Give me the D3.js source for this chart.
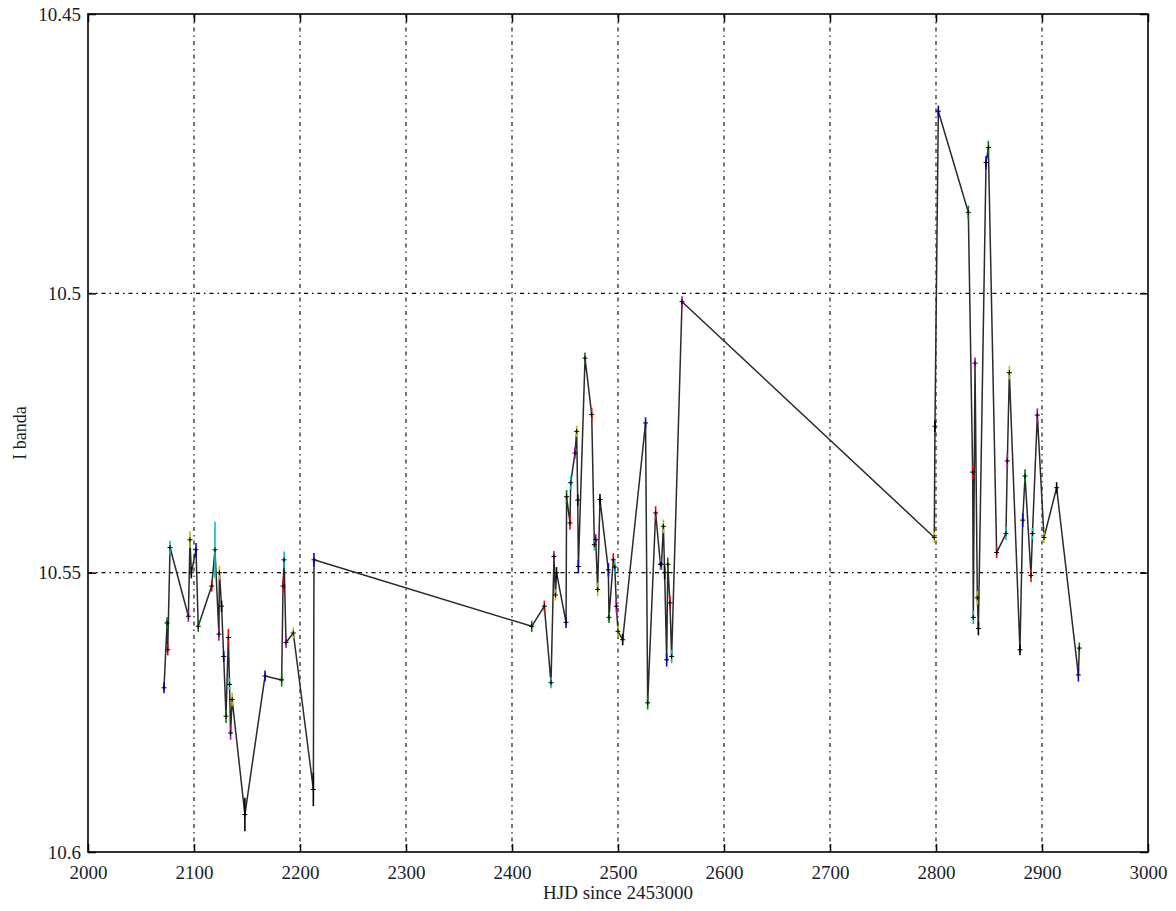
<!DOCTYPE html>
<html>
<head>
<meta charset="utf-8">
<script src="https://cdn.jsdelivr.net/npm/d3@7"></script>
<style>
    body { margin: 0; background: #fff; }
    text { font-family: "Liberation Serif", "DejaVu Serif", serif; fill: #1c1c28; }
</style>
</head>
<body>
<svg id="svg-lc"></svg>
<script>
// light curve, I band
let hjd = [
    2071.7, 2074.6, 2075.2, 2077.4, 2094.7, 2096.2, 2097.5, 2101.9, 2104.0, 2116.7,
    2119.8, 2123.5, 2124.0, 2126.0, 2128.0, 2130.2, 2132.4, 2133.5, 2134.5, 2136.0,
    2148.0, 2167.0, 2182.7, 2184.0, 2185.0, 2186.8, 2193.7, 2212.6, 2213.2,
    2418.6, 2430.5, 2436.8, 2439.6, 2441.0, 2442.0, 2451.0, 2451.5, 2454.7, 2455.4,
    2459.4, 2461.0, 2462.0, 2462.6, 2468.9, 2475.2, 2477.7, 2479.0, 2480.8, 2483.0,
    2490.9, 2491.5, 2495.6, 2497.0, 2498.5, 2500.0, 2504.4, 2526.0, 2528.0, 2535.5,
    2540.0, 2541.0, 2542.8, 2544.0, 2545.9, 2547.0, 2549.0, 2550.6, 2560.4,
    2798.4, 2799.0, 2802.2, 2830.5, 2834.6, 2835.2, 2836.8, 2839.0, 2840.0, 2847.2,
    2849.4, 2857.2, 2866.0, 2867.3, 2869.2, 2879.2, 2881.8, 2884.0, 2889.6, 2891.0,
    2895.6, 2901.9, 2913.8, 2934.3, 2935.2
];
let mag = [
    10.5706, 10.5590, 10.5638, 10.5455, 10.5578, 10.5441, 10.5500, 10.5459, 10.5596, 10.5524,
    10.5459, 10.5610, 10.5500, 10.5560, 10.5650, 10.5757, 10.5616, 10.5700, 10.5787, 10.5727,
    10.5933, 10.5685, 10.5692, 10.5524, 10.5477, 10.5625, 10.5608, 10.5888, 10.5477,
    10.5596, 10.5560, 10.5697, 10.5471, 10.5540, 10.5500, 10.5589, 10.5364, 10.5411, 10.5339,
    10.5286, 10.5247, 10.5370, 10.5489, 10.5116, 10.5217, 10.5450, 10.5441, 10.5530, 10.5369,
    10.5495, 10.5580, 10.5477, 10.5490, 10.5560, 10.5605, 10.5620, 10.5232, 10.5733, 10.5393,
    10.5485, 10.5485, 10.5417, 10.5500, 10.5656, 10.5485, 10.5554, 10.5650, 10.5015,
    10.5437, 10.5238, 10.4674, 10.4855, 10.5320, 10.5580, 10.5125, 10.5545, 10.5600, 10.4766,
    10.4739, 10.5464, 10.5430, 10.5300, 10.5142, 10.5638, 10.5406, 10.5327, 10.5505, 10.5430,
    10.5218, 10.5437, 10.5348, 10.5683, 10.5635
];
let err = [
    0.0010, 0.0010, 0.0010, 0.0012, 0.0010, 0.0015, 0.0010, 0.0012, 0.0010, 0.0010,
    0.0050, 0.0012, 0.0012, 0.0010, 0.0010, 0.0012, 0.0015, 0.0010, 0.0012, 0.0012,
    0.0030, 0.0010, 0.0012, 0.0012, 0.0015, 0.0010, 0.0010, 0.0030, 0.0012,
    0.0010, 0.0010, 0.0010, 0.0010, 0.0010, 0.0010, 0.0010, 0.0012, 0.0012, 0.0012,
    0.0010, 0.0010, 0.0010, 0.0012, 0.0010, 0.0012, 0.0010, 0.0010, 0.0012, 0.0010,
    0.0012, 0.0010, 0.0012, 0.0010, 0.0012, 0.0010, 0.0010, 0.0010, 0.0012, 0.0012,
    0.0010, 0.0010, 0.0012, 0.0012, 0.0012, 0.0012, 0.0012, 0.0012, 0.0010,
    0.0010, 0.0010, 0.0010, 0.0012, 0.0012, 0.0012, 0.0010, 0.0012, 0.0012, 0.0012,
    0.0012, 0.0010, 0.0012, 0.0012, 0.0012, 0.0010, 0.0012, 0.0012, 0.0012, 0.0010,
    0.0012, 0.0010, 0.0010, 0.0012, 0.0010
];
let xTicks = [2000, 2100, 2200, 2300, 2400, 2500, 2600, 2700, 2800, 2900, 3000];
let yTicks = [10.45, 10.5, 10.55, 10.6];
let xLabel = "HJD since 2453000";
let yLabel = "I banda";

const drawChart = () => {
    let svgWidth = 1176, svgHeight = 911;
    let margin = { top: 14, right: 28, bottom: 59, left: 88 };
    let width = svgWidth - margin.left - margin.right;
    let height = svgHeight - margin.top - margin.bottom;
    let svg = d3.select('#svg-lc')
        .attr("width", svgWidth)
        .attr("height", svgHeight);

    let g = svg.append("g")
        .attr("transform", "translate(" + margin.left + "," + margin.top + ")");

    let x = d3.scaleLinear().domain([2000, 3000]).range([0, width]);
    let y = d3.scaleLinear().domain([10.45, 10.6]).range([0, height]);

    // matplotlib's old colour cycle for the error bars
    let colors = ["#0000ff", "#008000", "#ff0000", "#00bfbf", "#bf00bf", "#bfbf00", "#000000"];

    let data = hjd.map(function (d, i) { return { t: d, m: mag[i], e: err[i], i: i }; });

    // grid
    g.append("g").selectAll("line")
        .data(xTicks.slice(1, -1))
        .join("line")
        .attr("x1", function (d) { return x(d) })
        .attr("x2", function (d) { return x(d) })
        .attr("y1", 0).attr("y2", height)
        .attr("stroke", "#000")
        .attr("stroke-width", 1.1)
        .attr("stroke-dasharray", "4,4,1.5,4");
    g.append("g").selectAll("line")
        .data(yTicks.slice(1, -1))
        .join("line")
        .attr("y1", function (d) { return y(d) })
        .attr("y2", function (d) { return y(d) })
        .attr("x1", 0).attr("x2", width)
        .attr("stroke", "#000")
        .attr("stroke-width", 1.1)
        .attr("stroke-dasharray", "4,4,1.5,4");

    // axes, ticks pointing inward on all sides
    let fmtY = function (d) { return String(+d.toFixed(2)) };
    g.append("g")
        .attr("transform", "translate(0," + height + ")")
        .call(d3.axisBottom(x).tickValues(xTicks).tickSize(-8).tickPadding(14).tickFormat(d3.format("d")))
        .call(function (a) { a.select(".domain").remove() })
        .selectAll("text").attr("font-size", 19);
    g.append("g")
        .call(d3.axisTop(x).tickValues(xTicks).tickSize(-8).tickFormat(""))
        .call(function (a) { a.select(".domain").remove() });
    g.append("g")
        .call(d3.axisLeft(y).tickValues(yTicks).tickSize(-8).tickPadding(7).tickFormat(fmtY))
        .call(function (a) { a.select(".domain").remove() })
        .selectAll("text").attr("font-size", 19);
    g.append("g")
        .attr("transform", "translate(" + width + ",0)")
        .call(d3.axisRight(y).tickValues(yTicks).tickSize(-8).tickFormat(""))
        .call(function (a) { a.select(".domain").remove() });
    g.selectAll(".tick line").attr("stroke", "#000").attr("stroke-width", 1.5);

    // light curve
    let line = d3.line()
        .x(function (d) { return x(d.t) })
        .y(function (d) { return y(d.m) });
    g.append("path")
        .datum(data)
        .attr("fill", "none")
        .attr("stroke", "#2a2a2a")
        .attr("stroke-width", 1.5)
        .attr("stroke-linejoin", "round")
        .attr("d", line);

    // error bars
    g.append("g").selectAll("line")
        .data(data)
        .join("line")
        .attr("x1", function (d) { return x(d.t) })
        .attr("x2", function (d) { return x(d.t) })
        .attr("y1", function (d) { return y(d.m - d.e) })
        .attr("y2", function (d) { return y(d.m + d.e) })
        .attr("stroke", function (d) { return colors[d.i % colors.length] })
        .attr("stroke-width", 1.6);

    // + markers
    let sym = d3.symbol().type(d3.symbolCross).size(10);
    g.append("g").selectAll("path")
        .data(data)
        .join("path")
        .attr("transform", function (d) { return "translate(" + x(d.t) + "," + y(d.m) + ")" })
        .attr("d", "M-2.5,0H2.5M0,-2.5V2.5")
        .attr("stroke", "#000")
        .attr("stroke-width", 1);

    // frame
    g.append("rect")
        .attr("width", width)
        .attr("height", height)
        .attr("fill", "none")
        .attr("stroke", "#000")
        .attr("stroke-width", 1.6);

    svg.append("text")
        .attr("x", margin.left + width / 2)
        .attr("y", 899)
        .attr("text-anchor", "middle")
        .attr("font-size", 19)
        .text(xLabel);

    svg.append("text")
        .attr("transform", "translate(26," + (margin.top + height / 2) + ") rotate(-90)")
        .attr("text-anchor", "middle")
        .attr("font-size", 18)
        .attr("fill", "#3a3a4a")
        .text(yLabel);
}

drawChart();
</script>
</body>
</html>
